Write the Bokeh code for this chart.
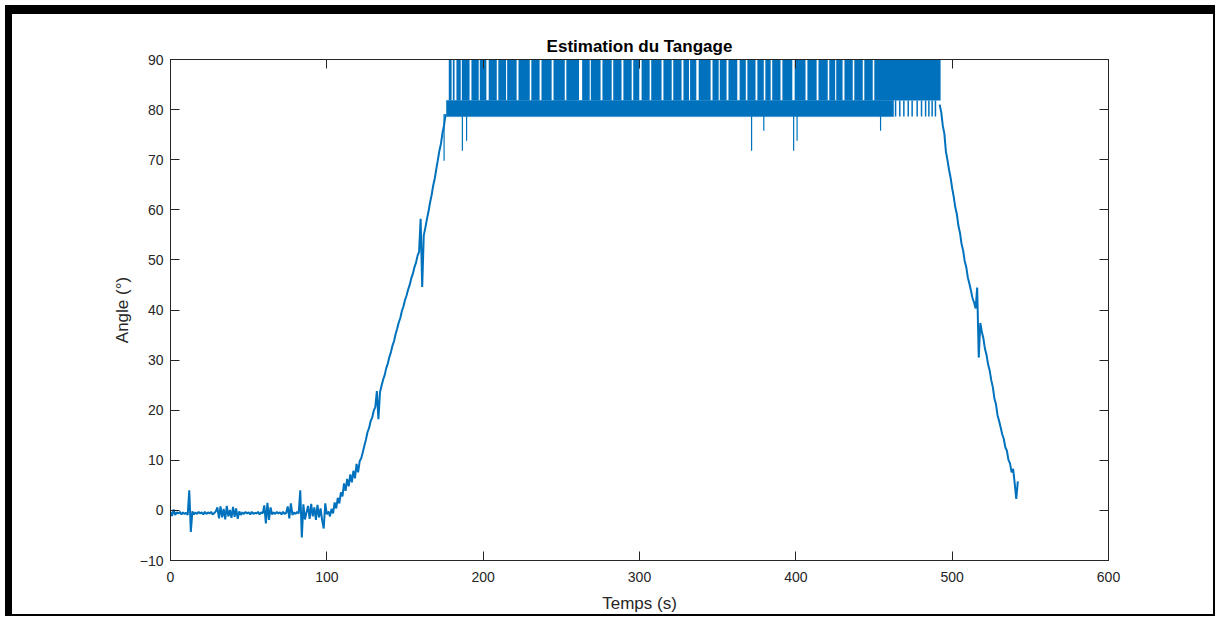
import numpy as np
from bokeh.plotting import figure
from bokeh.models import LinearAxis, FixedTicker, Title, Range1d
from bokeh.embed import file_html
from bokeh.resources import INLINE

BLUE = "#0072BD"
AX = "#262626"
FONT = "Liberation Sans"

# ---------------- data ----------------
x_ticks = [0, 100, 200, 300, 400, 500, 600]
y_ticks = [-10, 0, 10, 20, 30, 40, 50, 60, 70, 80, 90]

# flat start, t = 0 .. 100 s (1 s steps)
flat_vals = [
    -0.3, -1.1, 0.2, -0.9, -0.4, -0.6, -0.3, -0.8, -0.4, -0.7,
    -0.5, -0.9, 4.0, -4.3, -0.2, -0.8, -0.4, -0.7, -0.3, -0.6,
    -0.4, -0.8, -0.3, -0.7, -0.4, -0.6, -0.3, -0.8, -0.5, -0.2,
    0.6, -1.6, 0.8, -1.4, 0.3, -1.8, 0.9, -1.2, 0.1, -1.5,
    0.7, -1.3, 0.4, -1.7, -0.2, -0.9, -0.4, -0.7, -0.3, -0.6,
    -0.4, -0.8, -0.3, -0.7, -0.5, -0.6, -0.3, -0.8, -0.4, -0.6,
    1.0, -2.6, 1.5, -1.9, 0.6, -0.8, -0.4, -0.7, -0.3, -0.6,
    -0.4, -0.8, -0.3, -0.7, -0.5, 0.8, -1.6, 1.4, -0.9, -0.4,
    -0.7, -0.3, -0.6, 4.0, -5.4, 1.2, -1.8, -0.4, 0.9, -1.7,
    1.3, -1.2, 0.6, -1.9, 1.1, -1.4, 0.4, -2.0, -3.6, 1.4,
    -0.8,
]
# climb, t = 101 .. 176 s
rise_vals = [
    -0.2, -1.2, 0.3, -0.6, 1.6, 0.4, 2.5, 1.4, 3.6, 2.8,
    5.4, 3.9, 6.3, 4.8, 7.2, 5.6, 7.9, 6.4, 9.3, 7.6,
    9.8, 10.4, 11.6, 12.9, 14.1, 15.6, 16.4, 17.8, 18.5, 19.9,
    20.6, 23.8, 18.2, 23.6, 24.9, 26.1, 27.0, 28.4, 29.3, 30.6,
    31.6, 32.9, 33.8, 35.2, 36.3, 37.5, 38.4, 39.8, 40.7, 42.0,
    42.9, 44.1, 45.0, 46.3, 47.2, 48.5, 49.4, 50.8, 51.6, 58.2,
    44.6, 54.9, 56.4, 58.1, 59.6, 61.4, 62.9, 64.8, 66.2, 68.1,
    69.9, 71.8, 73.2, 75.4, 76.9, 79.1,
]
# descent, t = 492 .. 542 s
desc_vals = [
    81.0, 79.5, 76.8, 75.2, 71.6, 69.9, 68.0, 66.4, 64.3, 62.6,
    60.5, 59.1, 56.8, 55.4, 53.2, 51.9, 49.8, 48.6, 46.5, 45.3,
    43.9, 42.4, 41.5, 40.3, 44.5, 30.5, 37.4, 35.6, 34.3, 32.2,
    31.0, 29.1, 27.9, 26.0, 24.6, 22.4, 21.2, 19.0, 17.9, 16.6,
    15.2, 14.3, 12.6, 11.9, 10.1, 9.4, 7.6, 8.3, 5.4, 2.3,
    5.8,
]

# saturated plateau (signal chattering between ~79 and 90+)
band_start = [176.5]
band_end = [462.5]
band_lo = [78.6]
band_hi = [81.8]
sat_start = 178.0
sat_end = 492.6
sat_top = 90.0
# short moments where the chatter did not reach 90
gap_t = [180.2, 182.3, 186.0, 191.9, 197.5, 202.8, 209.2, 215.0, 222.0, 230.3,
         236.7, 244.4, 252.7, 262.3, 268.5, 275.7, 282.7, 289.1, 295.5, 300.6,
         307.0, 314.7, 321.1, 327.5, 332.0, 337.1, 346.1, 351.0, 356.3, 363.3,
         368.5, 374.8, 380.0, 384.4, 390.8, 398.5, 406.8, 413.9, 420.9, 425.5,
         430.5, 436.9, 443.3, 449.7]
gap_w = [0.8, 1.2, 0.7, 1.2, 0.7, 1.5, 1.0, 0.7, 1.2, 1.0,
         1.2, 1.2, 1.0, 2.0, 0.7, 1.2, 1.0, 1.2, 1.0, 1.5,
         1.0, 1.2, 1.0, 1.2, 0.7, 1.5, 1.2, 0.7, 1.2, 1.5,
         1.0, 1.2, 1.0, 1.0, 1.2, 1.5, 1.2, 1.2, 1.0, 0.7,
         1.2, 1.0, 1.0, 1.0]
# drops from 82 to 79 near the end of the plateau
drop_t = [463.8, 466.5, 469.1, 471.9, 474.4, 477.6, 480.4, 483.0, 485.1, 487.2, 489.3]
# isolated downward spikes on the plateau
spike_t = [175.0, 186.7, 189.4, 371.7, 379.5, 398.6, 400.8, 454.2]
spike_min = [69.8, 71.8, 73.8, 71.8, 75.8, 71.8, 73.8, 75.8]

# ---------------- figure ----------------
p = figure(width=1210, height=611,
           x_range=Range1d(0, 600), y_range=Range1d(-10, 90),
           output_backend="svg", toolbar_location=None,
           min_border_left=158, min_border_right=114,
           min_border_top=45, min_border_bottom=65,
           x_axis_label="Temps (s)", y_axis_label="Angle (°)")
p.styles = {"margin": "5px 0 0 5px", "border-style": "solid", "border-color": "black",
            "border-width": "9px 2px 2px 7px"}

p.title = Title(text="Estimation du Tangage", align="center",
                text_font=FONT, text_font_size="17px", text_font_style="bold",
                text_color="black", standoff=7)

p.xgrid.visible = False
p.ygrid.visible = False
p.outline_line_color = AX
p.outline_line_width = 1

for ax, ticks in ((p.xaxis[0], x_ticks), (p.yaxis[0], y_ticks)):
    ax.ticker = FixedTicker(ticks=ticks)
    ax.major_tick_in = 9
    ax.major_tick_out = 0
    ax.minor_tick_line_color = None
    ax.axis_line_color = AX
    ax.major_tick_line_color = AX
    ax.major_label_text_font = FONT
    ax.major_label_text_font_size = "14px"
    ax.major_label_text_color = AX
    ax.axis_label_text_font = FONT
    ax.axis_label_text_font_size = "17px"
    ax.axis_label_text_font_style = "normal"
    ax.axis_label_text_color = AX
p.xaxis[0].major_label_standoff = 11
p.xaxis[0].axis_label_standoff = 9
p.yaxis[0].major_label_standoff = 7
p.yaxis[0].axis_label_standoff = 5

for loc, ticks in (("above", x_ticks), ("right", y_ticks)):
    a = LinearAxis(ticker=FixedTicker(ticks=ticks), major_tick_in=9, major_tick_out=0,
                   minor_tick_line_color=None, axis_line_color=AX,
                   major_tick_line_color=AX, major_label_text_font_size="0px",
                   major_label_text_color=None, major_label_standoff=0)
    p.add_layout(a, loc)

# main trace
p.line(np.arange(0, 101), flat_vals, line_color=BLUE, line_width=2)
p.line(np.arange(100, 177), [flat_vals[-1]] + rise_vals, line_color=BLUE, line_width=2)
p.line(np.arange(492, 543), desc_vals, line_color=BLUE, line_width=2)

# plateau band
p.quad(left=band_start, right=band_end, bottom=band_lo, top=band_hi,
       fill_color=BLUE, line_color=BLUE, line_width=0.5)
# plateau bursts reaching 90
g_t = np.array(gap_t)
g_w = np.array(gap_w)
lefts = np.concatenate([[sat_start], g_t + g_w / 2])
rights = np.concatenate([g_t - g_w / 2, [sat_end]])
p.quad(left=lefts, right=rights, bottom=band_hi[0], top=sat_top,
       fill_color=BLUE, line_color=None)
p.segment(x0=drop_t, y0=band_hi[0], x1=drop_t, y1=band_lo[0],
          line_color=BLUE, line_width=1.5)
p.segment(x0=spike_t, y0=band_lo[0] + 0.5, x1=spike_t, y1=spike_min,
          line_color=BLUE, line_width=1.2)

open("out.html", "w").write(file_html(p, INLINE))
